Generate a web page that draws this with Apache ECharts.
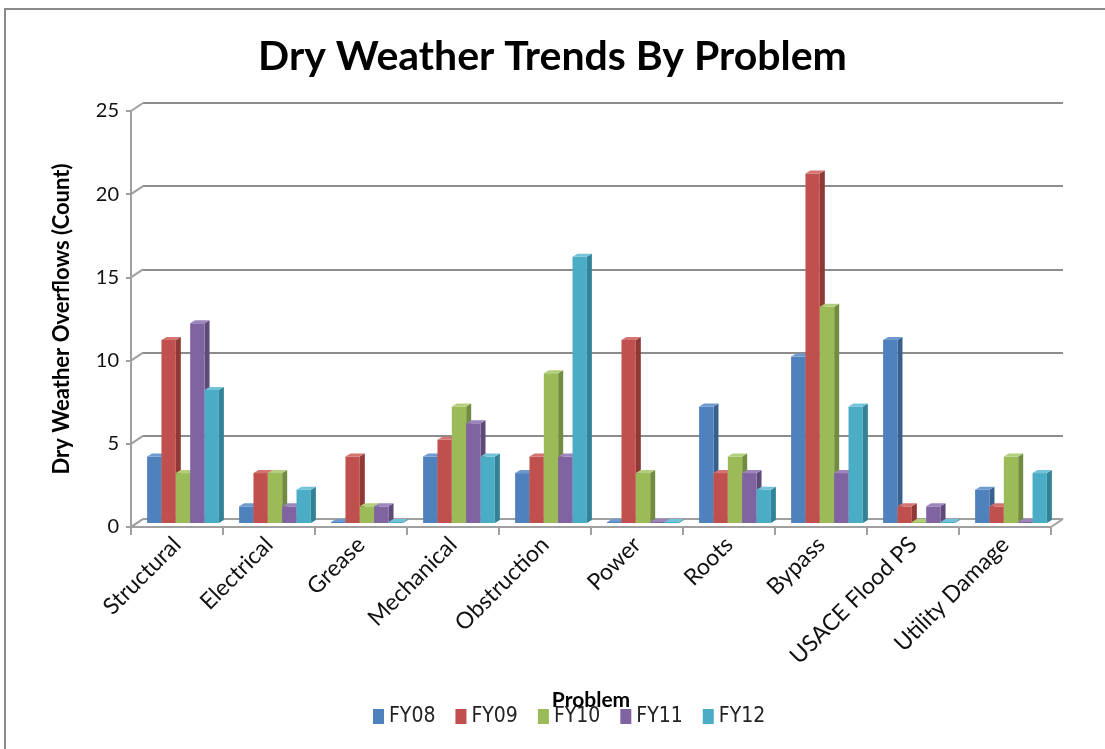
<!DOCTYPE html>
<html>
<head>
<meta charset="utf-8">
<script src="https://cdn.jsdelivr.net/npm/echarts@6/dist/echarts.min.js"></script>
<style>
  html, body { margin: 0; padding: 0; background: #fff; }
  #chart { width: 1105px; height: 749px; }
</style>
</head>
<body>
<div id="chart"></div>
<script>
// Problem categories on the x axis
const categories = ['Structural', 'Electrical', 'Grease', 'Mechanical', 'Obstruction',
                    'Power', 'Roots', 'Bypass', 'USACE Flood PS', 'Utility Damage'];

// Dry weather overflow counts per fiscal year
const fy08 = [4, 1, 0, 4, 3, 0, 7, 10, 11, 2];
const fy09 = [11, 3, 4, 5, 4, 11, 3, 21, 1, 1];
const fy10 = [3, 3, 1, 7, 9, 3, 4, 13, 0, 4];
const fy11 = [12, 1, 1, 6, 4, 0, 3, 3, 1, 0];
const fy12 = [8, 2, 0, 4, 16, 0, 2, 7, 0, 3];

const seriesNames = ['FY08', 'FY09', 'FY10', 'FY11', 'FY12'];
const seriesData = [fy08, fy09, fy10, fy11, fy12];
const yTicks = [0, 5, 10, 15, 20, 25];

const colors = ['#4F81BD', '#C0504D', '#9BBB59', '#8064A2', '#4BACC6'];
const sideColors = ['#38608F', '#8E3936', '#728B40', '#5E4A79', '#348297'];
const topColors = ['#6F9AD0', '#D57370', '#B3CF7B', '#9C84BC', '#72C3D9'];

const FONT = 'Lato, "Open Sans", sans-serif';

// depth of each column: right and up
const DX = 5, DY = -3;
const GROUP_FRAC = 0.78;
// offset of the back wall from the front plane
const WALL_DX = 12, WALL_DY = -8;

function makeRenderItem(k) {
  return function (params, api) {
    const ci = api.value(0);
    const v = api.value(1);
    const base = api.coord([ci, 0]);
    const top = api.coord([ci, v]);
    const band = api.size([1, 0])[0];
    const bw = band * GROUP_FRAC / seriesNames.length;
    const x0 = base[0] - band * GROUP_FRAC / 2 + k * bw;
    const x1 = x0 + bw;
    const yb = base[1];
    const yt = Math.min(top[1], yb - 1);
    return {
      type: 'group',
      children: [
        // right side face
        {
          type: 'polygon',
          shape: { points: [[x1, yt], [x1 + DX, yt + DY], [x1 + DX, yb + DY], [x1, yb]] },
          style: { fill: sideColors[k] }
        },
        // front face
        {
          type: 'rect',
          shape: { x: x0, y: yt, width: bw, height: yb - yt },
          style: { fill: colors[k] }
        },
        // top face
        {
          type: 'polygon',
          shape: { points: [[x0, yt], [x0 + DX, yt + DY], [x1 + DX, yt + DY], [x1, yt]] },
          style: { fill: topColors[k] }
        }
      ]
    };
  };
}

const chart = echarts.init(document.getElementById('chart'), null, { renderer: 'canvas' });

const series = seriesNames.map((name, k) => ({
  name: name,
  type: 'custom',
  xAxisIndex: 2,
  yAxisIndex: 2,
  renderItem: makeRenderItem(k),
  itemStyle: { color: colors[k] },
  encode: { x: 0, y: 1 },
  data: seriesData[k].map((v, i) => [i, v]),
  z: 5
}));

const frameLine = { stroke: '#A0A0A0', lineWidth: 2 };

// floor of the plot area (front edge to back wall)
series.push({
  type: 'custom',
  xAxisIndex: 0,
  yAxisIndex: 0,
  silent: true,
  z: 1,
  data: [[0, 0]],
  renderItem: function (params, api) {
    const half = api.size([1, 0])[0] / 2;
    const a = api.coord([0, 0]);
    const b = api.coord([categories.length - 1, 0]);
    const lx = a[0] - half, rx = b[0] + half, y = a[1];
    return {
      type: 'group',
      children: [
        { type: 'line', shape: { x1: lx, y1: y, x2: lx + WALL_DX, y2: y + WALL_DY }, style: frameLine },
        { type: 'line', shape: { x1: lx + WALL_DX, y1: y + WALL_DY, x2: rx + WALL_DX, y2: y + WALL_DY }, style: frameLine },
        { type: 'line', shape: { x1: rx, y1: y, x2: rx + WALL_DX, y2: y + WALL_DY }, style: frameLine }
      ]
    };
  }
});

// diagonal connectors between the front value axis and the back wall gridlines
series.push({
  type: 'custom',
  xAxisIndex: 0,
  yAxisIndex: 0,
  silent: true,
  z: 1,
  data: yTicks.map(t => [0, t]),
  renderItem: function (params, api) {
    const half = api.size([1, 0])[0] / 2;
    const p = api.coord([0, api.value(1)]);
    const x = p[0] - half;
    return {
      type: 'line',
      shape: { x1: x, y1: p[1], x2: x + WALL_DX, y2: p[1] + WALL_DY },
      style: frameLine
    };
  }
});

const option = {
  backgroundColor: '#ffffff',
  animation: false,
  title: {
    text: 'Dry Weather Trends By Problem',
    left: 'center',
    top: 31,
    textStyle: { fontFamily: FONT, fontWeight: 'bold', fontSize: 41, color: '#000' }
  },
  legend: {
    data: seriesNames,
    bottom: 17,
    left: 368,
    icon: 'rect',
    itemWidth: 11,
    itemHeight: 15,
    itemGap: 20,
    textStyle: { fontFamily: '"Liberation Sans Narrow", "DejaVu Sans Condensed", sans-serif', fontSize: 21, color: '#222' }
  },
  grid: [
    // front plane: value axis and category axis
    { left: 131, right: 54, top: 111, bottom: 222 },
    // back wall: gridlines
    { left: 143, right: 42, top: 103, bottom: 230 },
    // middle plane: columns
    { left: 137, right: 48, top: 107, bottom: 226 }
  ],
  xAxis: [
    {
      gridIndex: 0, type: 'category', data: categories,
      axisLine: { lineStyle: { color: '#A0A0A0', width: 2 } },
      axisTick: { show: true, length: 8, lineStyle: { color: '#A0A0A0', width: 2 } },
      axisLabel: { rotate: 45, fontFamily: FONT, fontSize: 23, color: '#111', margin: 14 },
      name: 'Problem', nameLocation: 'middle', nameGap: 163,
      nameTextStyle: { fontFamily: FONT, fontWeight: 'bold', fontSize: 21, color: '#000' }
    },
    { gridIndex: 1, type: 'category', data: categories, show: false },
    { gridIndex: 2, type: 'category', data: categories, show: false }
  ],
  yAxis: [
    {
      gridIndex: 0, type: 'value', min: 0, max: 25, interval: 5,
      axisLine: { show: true, lineStyle: { color: '#A0A0A0', width: 2 } },
      axisTick: { show: true, length: 5, lineStyle: { color: '#A0A0A0', width: 2 } },
      splitLine: { show: false },
      axisLabel: { fontFamily: FONT, fontSize: 20, color: '#111', margin: 12 },
      name: 'Dry Weather Overflows (Count)', nameLocation: 'middle', nameGap: 58, nameRotate: 90,
      nameTextStyle: { fontFamily: FONT, fontWeight: 'bold', fontSize: 22, color: '#000' }
    },
    {
      gridIndex: 1, type: 'value', min: 0, max: 25, interval: 5,
      axisLine: { show: false }, axisTick: { show: false }, axisLabel: { show: false },
      splitLine: { show: true, lineStyle: { color: '#8C8C8C', width: 2 } }
    },
    { gridIndex: 2, type: 'value', min: 0, max: 25, interval: 5, show: false, splitLine: { show: false } }
  ],
  graphic: [
    {
      type: 'rect', silent: true, z: -1,
      shape: { x: 5, y: 9, width: 1120, height: 760 },
      style: { fill: 'none', stroke: '#8A8A8A', lineWidth: 2 }
    }
  ],
  series: series
};

chart.setOption(option);
</script>
</body>
</html>
